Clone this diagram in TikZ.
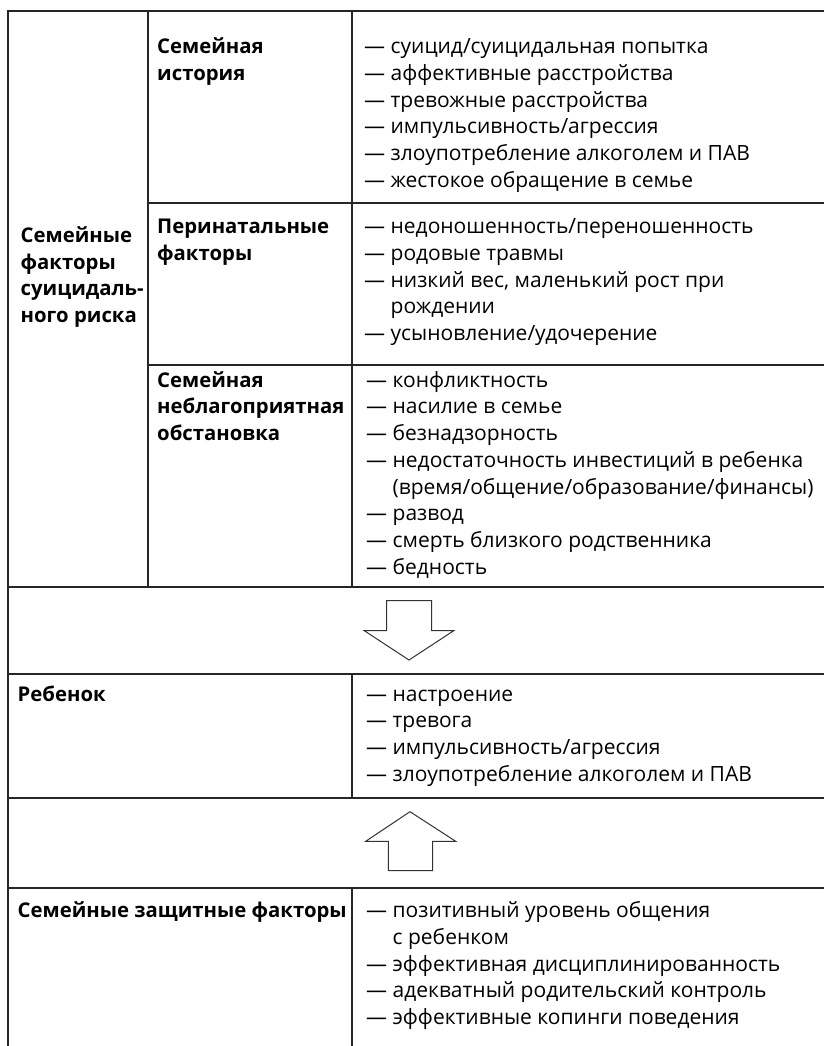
\documentclass[tikz,border=0pt]{standalone}
\usepackage{fontspec}
\setmainfont{Open Sans}
\usetikzlibrary{shapes}

\newcommand{\itm}{—\ }
\newcommand{\cnt}{\phantom{—\ }}
\newcommand{\tstrut}{\rule{0pt}{20pt}}

\begin{document}
\begin{tikzpicture}[x=1pt,y=-1pt]
      \tikzstyle{rule}=[draw=black!85, line width=1.5pt]
      \tikzstyle{cell}=[anchor=north west, inner sep=0pt, align=left, font=\fontsize{21}{26.7}\selectfont]
      \tikzstyle{head}=[cell, font=\fontsize{20.3}{26.7}\selectfont\bfseries]
      \tikzstyle{blockarrow}=[draw=black!80, line width=1pt, fill=white, line join=miter]

      \path[use as bounding box, fill=white] (0,0) rectangle (824,1046);

      \draw [rule] (824,11) -- (8,11) -- (8,1046);
      \draw [rule] (148,11) -- (148,587);
      \draw [rule] (352,11) -- (352,587);
      \draw [rule] (148,203) -- (824,203);
      \draw [rule] (148,365) -- (824,365);
      \draw [rule] (8,587) -- (824,587);
      \draw [rule] (8,674) -- (824,674);
      \draw [rule] (352,674) -- (352,798);
      \draw [rule] (8,798) -- (824,798);
      \draw [rule] (8,888) -- (824,888);
      \draw [rule] (352,888) -- (352,1046);

      \node [head] (risk) at (20.5,222.3) {\tstrut Семейные\\факторы\\суицидаль-\\ного риска};

      \node [head] (hist) at (157,33.5) {\tstrut Семейная\\история};
      \node [cell] (hist_items) at (364,33.5) {\tstrut\itm суицид/суицидальная попытка\\
        \itm аффективные расстройства\\
        \itm тревожные расстройства\\
        \itm импульсивность/агрессия\\
        \itm злоупотребление алкоголем и ПАВ\\
        \itm жестокое обращение в семье};

      \node [head] (perinat) at (157,213.5) {\tstrut Перинатальные\\факторы};
      \node [cell] (perinat_items) at (364,213.5) {\tstrut\itm недоношенность/переношенность\\
        \itm родовые травмы\\
        \itm низкий вес, маленький рост при\\
        \cnt рождении\\
        \itm усыновление/удочерение};

      \node [head] (env) at (157,367) {\tstrut Семейная\\неблагоприятная\\обстановка};
      \node [cell] (env_items) at (366,367) {\tstrut\itm конфликтность\\
        \itm насилие в семье\\
        \itm безнадзорность\\
        \itm недостаточность инвестиций в ребенка\\
        \cnt(время/общение/образование/финансы)\\
        \itm развод\\
        \itm смерть близкого родственника\\
        \itm бедность};

      \draw [blockarrow] (386.7,600.7) -- (431.7,600.7) -- (431.7,630.7) -- (453.7,630.7)
        -- (409,660) -- (364.3,630.7) -- (386.7,630.7) -- cycle;

      \node [head] (child) at (17.5,681) {\tstrut Ребенок};
      \node [cell] (child_items) at (366,681) {\tstrut\itm настроение\\
        \itm тревога\\
        \itm импульсивность/агрессия\\
        \itm злоупотребление алкоголем и ПАВ};

      \draw [blockarrow] (410,811.7) -- (455.7,841.3) -- (432.7,841.3) -- (432.7,870.7)
        -- (388.3,870.7) -- (388.3,841.3) -- (365.7,841.3) -- cycle;

      \node [head] (protect) at (17.5,897.5) {\tstrut Семейные защитные факторы};
      \node [cell] (protect_items) at (366,897.5) {\tstrut\itm позитивный уровень общения\\
        \cnt с ребенком\\
        \itm эффективная дисциплинированность\\
        \itm адекватный родительский контроль\\
        \itm эффективные копинги поведения};
    \end{tikzpicture}
\end{document}
